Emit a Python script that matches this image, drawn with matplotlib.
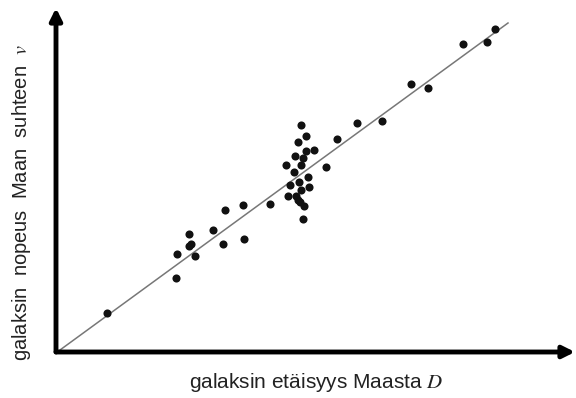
import matplotlib
matplotlib.use("Agg")
from matplotlib import pyplot as plt

# galaxy distance D and velocity v (arbitrary units)
dist = [245.0, 249.7, 242.0, 249.7, 258.3, 280.7, 300.7, 239.0, 246.7, 245.3,
        230.0, 270.3, 238.0, 252.3, 243.3, 234.3, 253.3, 245.3, 232.3, 239.7,
        241.7, 244.0, 248.0, 246.7, 214.0, 187.0, 169.0, 157.0, 133.3, 132.7,
        135.0, 167.3, 188.3, 121.3, 139.3, 119.7, 439.0, 431.0, 407.3, 355.0,
        371.7, 326.0, 50.7]
vel = [227.0, 216.3, 210.3, 201.3, 201.7, 212.7, 229.3, 196.0, 193.7, 187.3,
       187.3, 185.3, 179.7, 175.0, 170.3, 167.0, 165.3, 161.7, 155.7, 156.0,
       152.0, 150.0, 146.0, 133.3, 148.3, 146.7, 142.3, 121.7, 118.3, 106.3,
       108.0, 108.0, 112.7, 97.7, 96.0, 73.7, 322.7, 310.3, 307.7, 267.7,
       264.3, 231.0, 38.7]
fit_x = [4, 452]
fit_y = [2, 329]

plt.rcParams['mathtext.fontset'] = 'stix'

fig = plt.figure(figsize=(5.76, 3.98), dpi=100)
ax = fig.add_axes([56/576, 46/398, 519/576, 344/398])
ax.set_xlim(0, 519)
ax.set_ylim(0, 344)
for s in ax.spines.values():
    s.set_visible(False)
ax.set_xticks([])
ax.set_yticks([])

ax.plot(fit_x, fit_y, color='#777777', lw=1.1, zorder=1)
ax.scatter(dist, vel, s=34, color='#111111', zorder=2, linewidths=0)

# axis arrows
arrow = dict(arrowstyle='-|>,head_length=0.7,head_width=0.35', color='black',
             lw=3.5, shrinkA=0, shrinkB=0)
ax.annotate('', xy=(1.0, 0), xytext=(0, 0), xycoords='axes fraction',
            arrowprops=arrow)
ax.annotate('', xy=(0, 1.0), xytext=(0, 0), xycoords='axes fraction',
            arrowprops=arrow)

fig.text(316/576, 1 - 383/398, r'galaksin etäisyys Maasta $D$',
         family='Liberation Sans', fontsize=15, ha='center', va='center',
         color='#222222')
fig.text(22/576, 1 - 202/398, r'galaksin  nopeus  Maan  suhteen  $v$',
         family='Liberation Sans', fontsize=14.5, ha='center', va='center',
         rotation=90, color='#222222')

fig.savefig("out.png", dpi=100)
